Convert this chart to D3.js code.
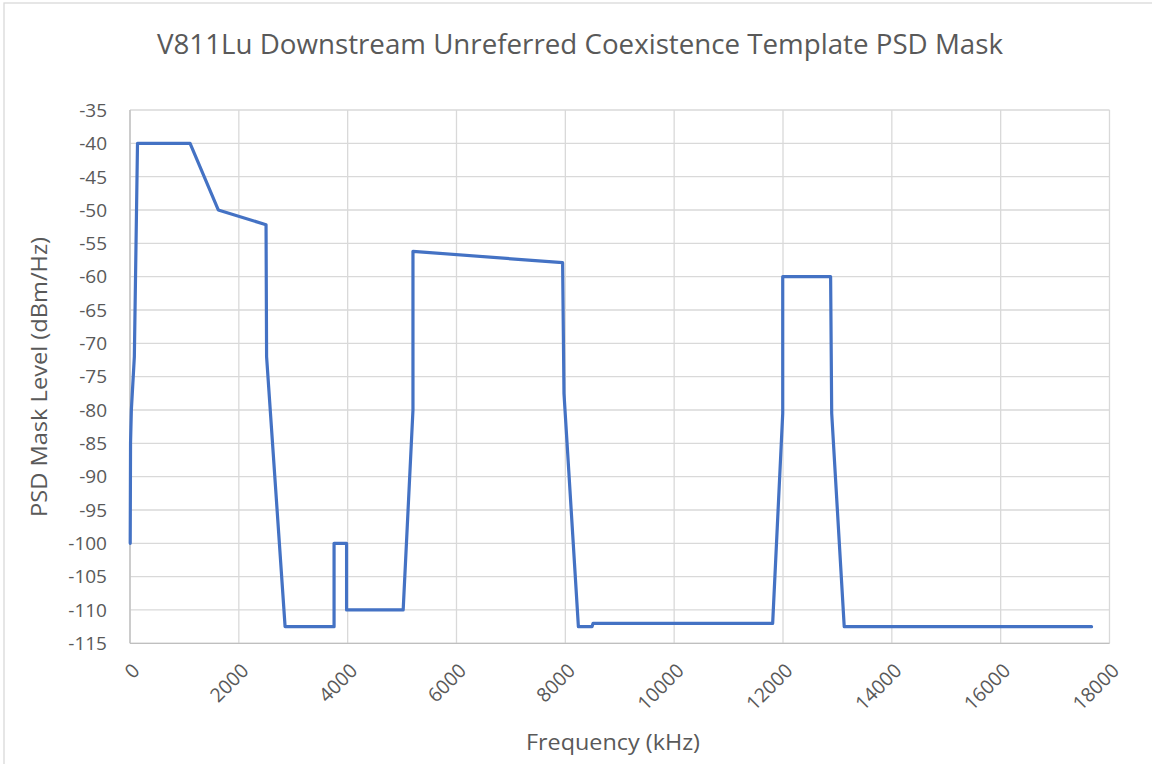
<!DOCTYPE html>
<html><head><meta charset="utf-8">
<script src="https://cdn.jsdelivr.net/npm/d3@7"></script>
<style>body{margin:0;background:#fff}svg{display:block}text{font-family:"Open Sans",sans-serif;fill:#595959}</style>
</head><body><svg id="c" width="1152" height="764"></svg>
<script>
const freqKHz = [4, 10, 25, 80, 138, 1104, 1622, 2500, 2510, 2850, 3750, 3750, 3980, 3980, 5020, 5200, 5200, 7950, 7975, 8240, 8490, 8510, 11810, 11995, 11995, 12875, 12895, 13125, 17670];
const psdDbm = [-100, -85, -80, -72, -40, -40, -50, -52.2, -72, -112.5, -112.5, -100, -100, -110, -110, -80, -56.2, -57.9, -77.5, -112.5, -112.5, -112, -112, -80.5, -60, -60, -80.5, -112.5, -112.5];
const xTicks = [0, 2000, 4000, 6000, 8000, 10000, 12000, 14000, 16000, 18000];
const yTicks = [-35, -40, -45, -50, -55, -60, -65, -70, -75, -80, -85, -90, -95, -100, -105, -110, -115];
const titleText = "V811Lu Downstream Unreferred Coexistence Template PSD Mask";
const xTitle = "Frequency (kHz)";
const yTitle = "PSD Mask Level (dBm/Hz)";

const svg = d3.select("#c");
svg.append("rect").attr("x",4).attr("y",3).attr("width",1160).attr("height",780)
  .attr("fill","none").attr("stroke","#d9d9d9").attr("stroke-width",1.3);

const x = d3.scaleLinear().domain([0,18000]).range([130,1109.5]);
const y = d3.scaleLinear().domain([-115,-35]).range([643.3,110]);

const g = svg.append("g");
g.selectAll(".hg").data(yTicks).join("line")
  .attr("x1",x(0)).attr("x2",x(18000)).attr("y1",d=>y(d)).attr("y2",d=>y(d))
  .attr("stroke","#d9d9d9").attr("stroke-width",1.3);
g.selectAll(".vg").data(xTicks).join("line")
  .attr("y1",y(-115)).attr("y2",y(-35)).attr("x1",d=>x(d)).attr("x2",d=>x(d))
  .attr("stroke","#d9d9d9").attr("stroke-width",1.3);
g.append("line").attr("x1",x(0)).attr("x2",x(18000)).attr("y1",y(-115)).attr("y2",y(-115)).attr("stroke","#bfbfbf").attr("stroke-width",1.3);
g.append("line").attr("x1",x(0)).attr("x2",x(0)).attr("y1",y(-115)).attr("y2",y(-35)).attr("stroke","#bfbfbf").attr("stroke-width",1.3);

g.selectAll(".yl").data(yTicks).join("text")
  .attr("x",107).attr("y",d=>y(d)).attr("dy","0.36em").attr("text-anchor","end")
  .attr("font-size",19).text(d=>d);
g.selectAll(".xl").data(xTicks).join("text")
  .attr("transform",d=>`translate(${x(d)+6},${667}) rotate(-45)`)
  .attr("dy","0.36em").attr("text-anchor","end").attr("font-size",19.5).text(d=>d);

const line = d3.line().x((d,i)=>x(freqKHz[i])).y(d=>y(d));
g.append("path").datum(psdDbm).attr("d",line).attr("fill","none")
  .attr("stroke","#4472c4").attr("stroke-width",3.2).attr("stroke-linejoin","round").attr("stroke-linecap","round");

svg.append("text").attr("x",580).attr("y",54).attr("text-anchor","middle").attr("font-size",28)
  .attr("textLength",846).attr("lengthAdjust","spacingAndGlyphs").text(titleText);
svg.append("text").attr("x",613).attr("y",750).attr("text-anchor","middle").attr("font-size",22)
  .attr("textLength",174).attr("lengthAdjust","spacingAndGlyphs").text(xTitle);
svg.append("text").attr("transform","translate(47,377) rotate(-90)").attr("text-anchor","middle").attr("font-size",22)
  .attr("textLength",280).attr("lengthAdjust","spacingAndGlyphs").text(yTitle);
</script></body></html>
